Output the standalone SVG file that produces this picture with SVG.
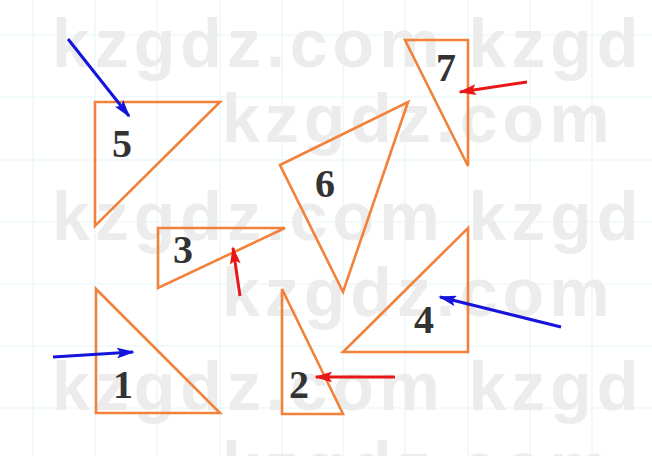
<svg xmlns="http://www.w3.org/2000/svg" width="652" height="456" viewBox="0 0 652 456">
<defs>
<style>
.wm{font-family:"Liberation Sans",Arial,sans-serif;font-weight:bold;font-size:68px;fill:#ececec;letter-spacing:5px}
.grid{stroke:#e6f5f8;stroke-width:1.2;fill:none}
.tri{fill:none;stroke:#f2813a;stroke-width:2.6;stroke-linejoin:miter}
.num{font-family:"Liberation Serif","Times New Roman",serif;font-size:40px;fill:#333;text-anchor:middle;font-weight:bold}
.blue{stroke:#1414dc;stroke-width:3;fill:none;marker-end:url(#hb)}
.red{stroke:#e81616;stroke-width:3;fill:none;marker-end:url(#hr)}
</style>
<marker id="hb" viewBox="0 0 10 6" refX="9" refY="3" markerWidth="6" markerHeight="3.6" orient="auto" markerUnits="strokeWidth"><path d="M0,0 L10,3 L0,6 L2,3 Z" fill="#1414dc"/></marker>
<marker id="hr" viewBox="0 0 10 6" refX="9" refY="3" markerWidth="6" markerHeight="3.6" orient="auto" markerUnits="strokeWidth"><path d="M0,0 L10,3 L0,6 L2,3 Z" fill="#e81616"/></marker>
</defs>
<rect width="652" height="456" fill="#ffffff"/>
<g id="grid" class="grid">
<path d="M33,0V456M95,0V456M157,0V456M220,0V456M282,0V456M343,0V456M405,0V456M468,0V456M530,0V456M592,0V456"/>
<path d="M0,35H652M0,97H652M0,160H652M0,222H652M0,284H652M0,346H652M0,408H652"/>
</g>
<g id="watermark">
<text class="wm" x="52" y="67">kzgdz.com kzgd</text>
<text class="wm" x="222" y="142">kzgdz.com</text>
<text class="wm" x="52" y="240">kzgdz.com kzgd</text>
<text class="wm" x="222" y="316">kzgdz.com</text>
<text class="wm" x="52" y="410">kzgdz.com kzgd</text>
<text class="wm" x="222" y="490">kzgdz.com</text>
</g>
<g id="t5"><polygon class="tri" points="95,102 220,102 95,226"/><text class="num" x="122" y="157">5</text></g>
<g id="t7"><polygon class="tri" points="405,40 468,40 468,166"/><text class="num" x="446" y="81">7</text></g>
<g id="t6"><polygon class="tri" points="280,165 408,102 343,292"/><text class="num" x="325" y="197">6</text></g>
<g id="t3"><polygon class="tri" points="158,228 285,228 158,288"/><text class="num" x="183" y="263">3</text></g>
<g id="t1"><polygon class="tri" points="96,289 96,413 220,413"/><text class="num" x="123" y="398">1</text></g>
<g id="t2"><polygon class="tri" points="282,289 282,414 343,414"/><text class="num" x="299" y="398">2</text></g>
<g id="t4"><polygon class="tri" points="468,228 468,352 343,352"/><text class="num" x="424" y="333">4</text></g>
<g id="connectors">
<line class="blue" x1="68" y1="39" x2="129" y2="116"/>
<line class="red" x1="527" y1="82" x2="460" y2="92"/>
<line class="red" x1="240" y1="296" x2="233" y2="248"/>
<line class="blue" x1="53" y1="357" x2="133" y2="352"/>
<line class="red" x1="395" y1="377" x2="316" y2="377"/>
<line class="blue" x1="561" y1="327" x2="440" y2="297"/>
</g>
</svg>
